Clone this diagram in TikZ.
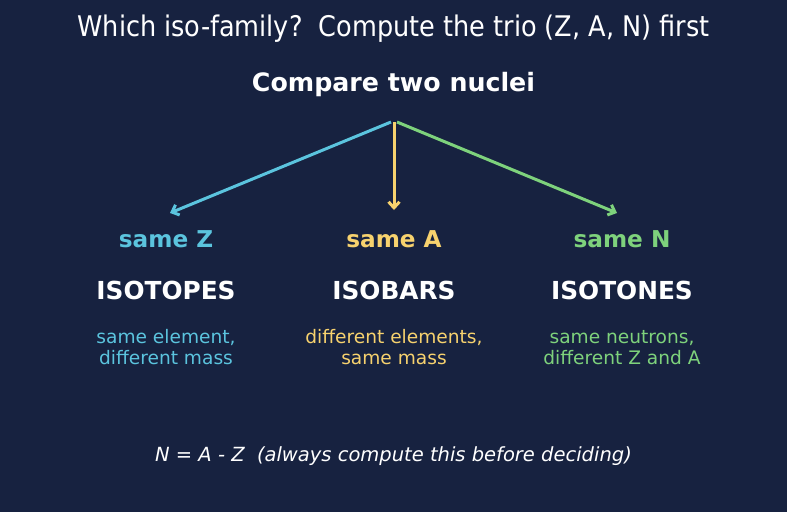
\documentclass[tikz,border=0pt]{standalone}
\usepackage{fontspec}
\setmainfont{DejaVu Sans}
\newfontfamily\condfont{DejaVu Sans Condensed}
\usetikzlibrary{arrows.meta}
\definecolor{bg}{HTML}{172240}
\definecolor{cblue}{HTML}{5BC4DE}
\definecolor{cyellow}{HTML}{F7D26E}
\definecolor{cgreen}{HTML}{7ED27C}
\tikzset{
  title/.style={text=white, font=\condfont\fontsize{28.4}{32}\selectfont},
  head/.style={text=white, font=\bfseries\fontsize{25.3}{30}\selectfont},
  same/.style={font=\bfseries\fontsize{23.2}{27}\selectfont},
  family/.style={text=white, font=\bfseries\fontsize{24.8}{29}\selectfont},
  desc/.style={align=center, font=\fontsize{18.6}{21}\selectfont},
  note/.style={text=white, font=\itshape\fontsize{19.5}{23}\selectfont},
  conn/.style={line width=3pt, -{Straight Barb[length=6pt,width=11pt,line width=3pt]}}
}
\begin{document}
\begin{tikzpicture}[x=1pt,y=-1pt]
\fill[bg] (0,0) rectangle (787,512);
\useasboundingbox (0,0) rectangle (787,512);
\node[title] (t) at (393.5,28.5) {Which iso-family?\ \ Compute the trio (Z, A, N) first};
\node[head] (h) at (393.5,85) {Compare two nuclei};
\coordinate (sl) at (391,122);
\coordinate (sm) at (394,122);
\coordinate (sr) at (397,122);
\node[same, text=cblue] (sz) at (166,239.5) {same Z};
\node[same, text=cyellow] (sa) at (394,239.5) {same A};
\node[same, text=cgreen] (sn) at (622,239.5) {same N};
\coordinate (el) at (170,213);
\coordinate (em) at (394,210);
\coordinate (er) at (617,213);
\draw[conn, cblue] (sl) -- (el);
\draw[conn, cyellow] (sm) -- (em);
\draw[conn, cgreen] (sr) -- (er);
\node[family] (f1) at (166,290.5) {ISOTOPES};
\node[family] (f2) at (394,290.5) {ISOBARS};
\node[family] (f3) at (622,290.5) {ISOTONES};
\node[desc, text=cblue] (d1) at (166,347.5) {same element,\\different mass};
\node[desc, text=cyellow] (d2) at (394,347.5) {different elements,\\same mass};
\node[desc, text=cgreen] (d3) at (622,347.5) {same neutrons,\\different Z and A};
\node[note] (n) at (393.5,456.5) {N = A - Z\ \ (always compute this before deciding)};
\end{tikzpicture}
\end{document}
